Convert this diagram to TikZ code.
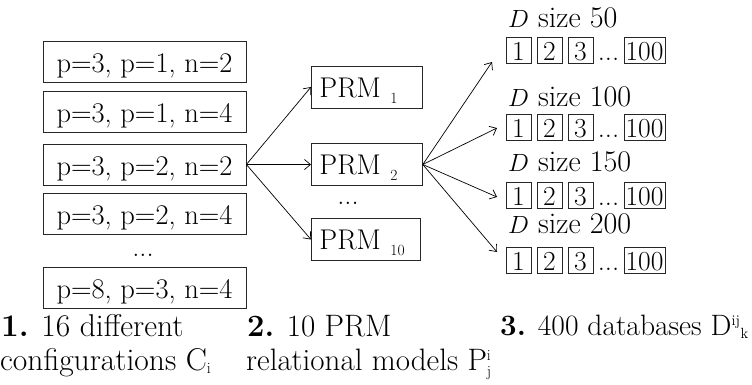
\documentclass[tikz,border=0pt]{standalone}
\usepackage{fontspec}
\usetikzlibrary{arrows.meta}
\begin{document}
\begin{tikzpicture}[x=1pt,y=-1pt,
  every node/.style={font=\fontsize{28.5}{32}\selectfont\addfontfeatures{FakeBold=0.6}, inner sep=0pt},
  cfg/.style={draw=black!85, line width=0.8pt, minimum width=203pt, minimum height=41pt, text height=21pt, text depth=0pt},
  prm/.style={draw=black!85, line width=0.8pt, minimum height=42pt, inner xsep=8pt, align=left, anchor=west, text height=20pt, text depth=0pt},
  dbb/.style={draw=black!85, line width=0.7pt, minimum width=25pt, minimum height=26pt, text height=20pt, text depth=0pt, font=\fontsize{27.5}{32}\selectfont\addfontfeatures{FakeBold=0.6}},
  dlab/.style={anchor=base west, font=\fontsize{30}{32}\selectfont\addfontfeatures{FakeBold=0.6}},
  blab/.style={anchor=base west, font=\fontsize{31.5}{33}\selectfont\addfontfeatures{FakeBold=0.6}},
  arr/.style={line width=0.7pt, -{Straight Barb[length=6pt,width=10pt]}}
]
\fill[white] (0,0) rectangle (752,384);
\useasboundingbox (0,0) rectangle (752,384);
\newcommand{\sbs}[1]{\smash{\raisebox{-6pt}{\fontsize{15.5}{15.5}\selectfont #1}}}

% configurations
\node[cfg] (c1) at (144.5,62) {p=3, p=1, n=2};
\node[cfg] (c2) at (144.5,111.5) {p=3, p=1, n=4};
\node[cfg] (c3) at (144.5,164.5) {p=3, p=2, n=2};
\node[cfg] (c4) at (144.5,214) {p=3, p=2, n=4};
\node[anchor=base] (cd) at (143,256) {...};
\node[cfg] (c5) at (144.5,287.5) {p=8, p=3, n=4};

% PRMs
\node[prm, text width=95pt] (p1) at (311,87) {PRM \sbs{1}};
\node[prm, text width=95pt] (p2) at (311,164.5) {PRM \sbs{2}};
\node[anchor=base] (pd) at (348,204) {...};
\node[prm, text width=93pt] (p10) at (311,239.5) {PRM \sbs{10}};

\draw[arr] (c3.east) -- (p1.west);
\draw[arr] (c3.east) -- (p2.west);
\draw[arr] (c3.east) -- (p10.west);

% databases
\node[dlab] (d1) at (508,27) {$D$ size 50};
\node[dlab] (d2) at (508,106) {$D$ size 100};
\node[dlab] (d3) at (508,171) {$D$ size 150};
\node[dlab] (d4) at (508,233.5) {$D$ size 200};

\foreach \r/\yc in {1/50,2/127.5,3/195.5,4/260}{
  \node[dbb] (r\r a) at (518.5,\yc) {1};
  \node[dbb] (r\r b) at (549.5,\yc) {2};
  \node[dbb] (r\r c) at (580.5,\yc) {3};
  \node[anchor=base] (r\r d) at (608.5,\yc+10) {...};
  \node[dbb, minimum width=41pt] (r\r e) at (644.5,\yc) {100};
}

\coordinate (t1) at (492,62);
\coordinate (t2) at (497,128);
\coordinate (t3) at (497,197);
\coordinate (t4) at (497,252);
\foreach \t in {t1,t2,t3,t4}{\draw[arr] (p2.east) -- (\t);}

% bottom labels
\node[blab] (l1a) at (1,336) {\textbf{1.} 16 different};
\node[blab] (l1b) at (0,370) {configurations $\mathrm{C}_{\scriptscriptstyle\mathrm{i}}$};
\node[blab, font=\fontsize{31}{33}\selectfont\addfontfeatures{FakeBold=0.6}] (l2a) at (247,336) {\textbf{2.} 10 PRM};
\node[blab, font=\fontsize{31}{33}\selectfont\addfontfeatures{FakeBold=0.6}] (l2b) at (246,370) {relational models $\mathrm{P}^{\scriptscriptstyle\mathrm{i}}_{\scriptscriptstyle\mathrm{j}}$};
\node[blab, font=\fontsize{29.5}{33}\selectfont\addfontfeatures{FakeBold=0.6}] (l3) at (500,335) {\textbf{3.} 400 databases ${\mathrm{D}^{\scriptscriptstyle\mathrm{ij}}}_{\scriptscriptstyle\mathrm{k}}$};
\end{tikzpicture}
\end{document}
